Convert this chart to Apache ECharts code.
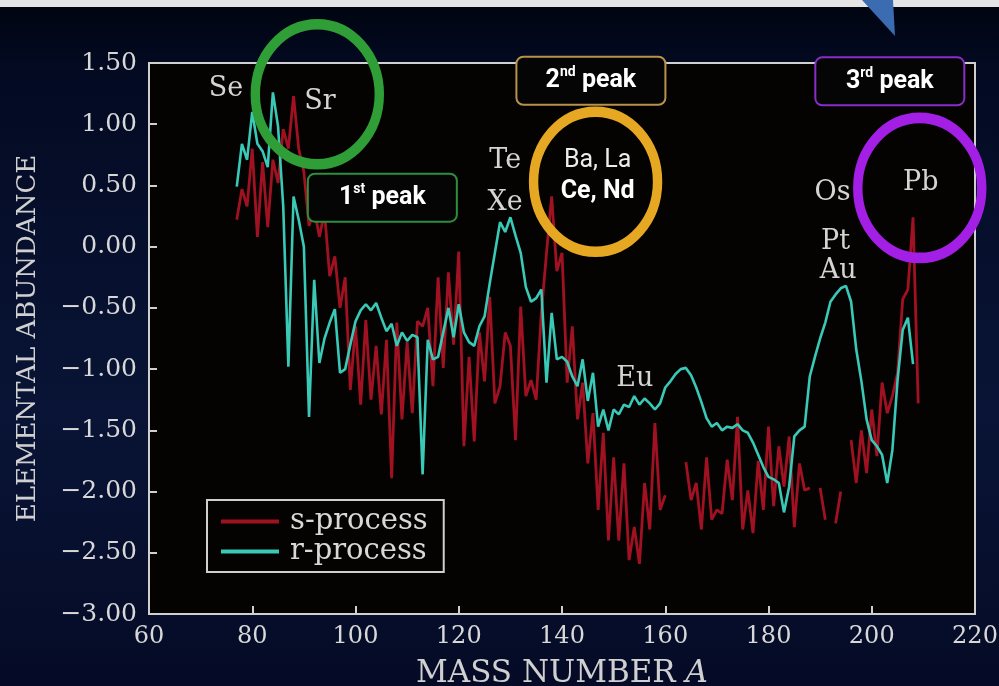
<!DOCTYPE html>
<html>
<head>
<meta charset="utf-8">
<title>s- and r-process abundances</title>
<script src="https://cdn.jsdelivr.net/npm/echarts@6/dist/echarts.min.js"></script>
<style>
  html, body { margin: 0; padding: 0; background: #070d2b; }
  #chart { width: 999px; height: 686px; }
</style>
</head>
<body>
<div id="chart"></div>
<script>
// Mass numbers A shared by both abundance curves
const massNumbers = [
  77, 78, 79, 80, 81, 82, 83, 84, 85, 86, 87, 88, 89, 90, 91, 92, 93, 94, 95, 96,
  97, 98, 99, 100, 101, 102, 103, 104, 105, 106, 107, 108, 109, 110, 111, 112, 113, 114, 115, 116,
  117, 118, 119, 120, 121, 122, 123, 124, 125, 126, 127, 128, 129, 130, 131, 132, 133, 134, 135, 136,
  137, 138, 139, 140, 141, 142, 143, 144, 145, 146, 147, 148, 149, 150, 151, 152, 153, 154, 155, 156,
  157, 158, 159, 160, 161, 162, 163, 164, 165, 166, 167, 168, 169, 170, 171, 172, 173, 174, 175, 176,
  177, 178, 179, 180, 181, 182, 183, 184, 185, 186, 187, 188, 189, 190, 191, 192, 193, 194, 195, 196,
  197, 198, 199, 200, 201, 202, 203, 204, 205, 206, 207, 208, 209
];

// s-process elemental abundance (log scale); null = no value
const sProcess = [
  0.22, 0.47, 0.33, 0.80, 0.08, 0.69, 0.16, 0.71, 0.52, 0.96, 0.80, 1.23, 0.80, 0.61, 0.17, 0.31, 0.08, 0.28, -0.24, -0.08,
  -0.50, -0.25, -1.17, -0.65, -1.29, -0.60, -1.25, -0.81, -1.37, -0.76, -1.89, -0.62, -1.41, -0.78, -1.36, -0.61, -0.65, -0.50, -1.14, -0.25,
  -0.99, -0.21, -0.80, -0.04, -1.63, -0.90, -1.59, -0.70, -1.10, -0.41, -1.28, -1.14, -0.70, -0.81, -1.58, -0.49, -1.22, -1.09, -1.25, -0.54,
  -0.05, 0.41, -0.20, -0.05, -1.11, -0.65, -1.41, -1.11, -1.77, -1.36, -2.15, -1.52, -2.40, -1.72, -2.40, -1.77, -2.56, -2.29, -2.59, -1.93,
  -2.31, -1.44, -2.15, -2.03, null, null, null, -1.76, -2.07, -1.93, -2.31, -1.72, -2.23, -2.15, -2.18, -1.74, -2.07, -1.39, -2.31, -1.99,
  -2.34, -1.75, -2.15, -1.47, -2.12, -1.63, -1.96, -1.55, -2.29, -1.77, -1.99, -1.97, null, -1.97, -2.23, null, -2.26, -2.00, null, -1.58,
  -1.93, -1.50, -1.85, -1.33, -1.71, -1.11, -1.36, -1.22, -1.03, -0.43, -0.35, 0.24, -1.28
];

// r-process elemental abundance (log scale); null = no value
const rProcess = [
  0.49, 0.84, 0.71, 1.10, 0.84, 0.78, 0.65, 1.26, 0.98, 0.33, -0.98, 0.41, 0.22, 0.00, -1.39, -0.27, -0.95, -0.75, -0.62, -0.51,
  -1.03, -1.00, -0.80, -0.61, -0.52, -0.47, -0.52, -0.46, -0.58, -0.69, -0.63, -0.81, -0.70, -0.77, -0.72, -0.74, -1.86, -0.76, -0.92, -0.90,
  -0.70, -0.50, -0.74, -0.47, -0.70, -0.78, -0.81, -0.65, -0.57, -0.30, -0.05, 0.20, 0.12, 0.24, 0.09, -0.05, -0.33, -0.45, -0.42, -0.35,
  -1.11, -0.54, -0.92, -0.90, -0.94, -1.06, -1.14, -0.92, -1.26, -1.03, -1.47, -1.33, -1.50, -1.33, -1.37, -1.29, -1.31, -1.22, -1.29, -1.24,
  -1.28, -1.33, -1.28, -1.15, -1.10, -1.04, -1.00, -0.99, -1.05, -1.15, -1.27, -1.40, -1.47, -1.44, -1.50, -1.47, -1.48, -1.45, -1.50, -1.52,
  -1.60, -1.70, -1.80, -1.88, -1.90, -1.93, -2.17, -1.96, -1.55, -1.50, -1.47, -1.06, -0.90, -0.75, -0.62, -0.45, -0.39, -0.34, -0.32, -0.45,
  -0.84, -1.10, -1.41, -1.58, -1.63, -1.70, -1.93, -1.66, -1.09, -0.68, -0.58, -0.96, null
];

const seriesNames = ['s-process', 'r-process'];

// Element symbols marked on the curves, anchored at [A, abundance]
const elementNames = ['Se', 'Sr', 'Te', 'Xe', 'Eu', 'Os', 'Pt', 'Au', 'Pb'];
const elementAnchors = [
  [74.9, 1.29], [93.1, 1.18], [129.0, 0.70], [129.0, 0.36], [154.1, -1.08],
  [192.4, 0.44], [193.0, 0.04], [193.5, -0.20], [209.5, 0.52]
];

// Rare-earth group inside the second-peak ring
const rareEarthLines = ['Ba, La', 'Ce, Nd'];
const rareEarthAnchors = [[146.9, 0.70], [146.9, 0.45]];

// Peak captions: ordinal number, suffix, anchor
const peakNumbers = ['1', '2', '3'];
const peakSuffixes = ['st', 'nd', 'rd'];
const peakAnchors = [[105.2, 0.40], [145.6, 1.355], [203.5, 1.35]];

// Rings around the three abundance peaks
const ringAnchors = [[92.6, 1.245], [146.5, 0.53], [209.3, 0.48]];

const ringColors = ['#2f9e36', '#e6a823', '#a41fe6'];
const peakBorderColors = ['#2e8f3d', '#b8924a', '#8a2cc8'];

const SERIF = 'DejaVu Serif';
const SANS = 'Roboto';

const chart = echarts.init(document.getElementById('chart'), null, { renderer: 'canvas' });

const minusFmt = v => (v < 0 ? '\u2212' : '') + Math.abs(v).toFixed(2);

const option = {
  animation: false,
  backgroundColor: {
    type: 'linear', x: 0, y: 0, x2: 0, y2: 1,
    colorStops: [
      { offset: 0, color: '#00040f' },
      { offset: 0.1, color: '#030a22' },
      { offset: 0.6, color: '#091436' },
      { offset: 1, color: '#050b26' }
    ]
  },
  graphic: [
    { type: 'rect', shape: { x: 0, y: 0, width: 999, height: 7 }, style: { fill: '#e4e4e4' }, silent: true },
    { type: 'polygon', shape: { points: [[862, 0], [893, 0], [895, 36]] }, style: { fill: '#3b6cb2' }, silent: true }
  ],
  grid: {
    left: 149, right: 24, top: 63, bottom: 72,
    outerBoundsMode: 'none',
    containLabel: false,
    show: true,
    backgroundColor: '#050202',
    borderColor: '#cfcfcf',
    borderWidth: 2
  },
  legend: {
    data: seriesNames,
    orient: 'vertical',
    left: 207, top: 500,
    padding: [7, 16, 6, 14],
    itemGap: 1,
    itemWidth: 58,
    itemHeight: 4,
    icon: 'rect',
    backgroundColor: '#050202',
    borderColor: '#cfcfcf',
    borderWidth: 2,
    borderRadius: 0,
    textStyle: { color: '#d8d8d8', fontFamily: SERIF, fontSize: 29, lineHeight: 26, padding: [0, 0, 0, 6] }
  },
  xAxis: {
    type: 'value',
    min: 60, max: 220, interval: 20,
    name: '{n|MASS NUMBER }{i|A}',
    nameLocation: 'middle',
    nameGap: 44,
    nameTextStyle: {
      rich: {
        n: { fontFamily: SERIF, fontSize: 31, color: '#d0d0d0' },
        i: { fontFamily: SERIF, fontSize: 31, fontStyle: 'italic', color: '#d0d0d0' }
      }
    },
    axisLine: { show: true, onZero: false, lineStyle: { color: '#cfcfcf', width: 2 } },
    axisTick: { show: true, inside: true, length: 8, lineStyle: { color: '#cfcfcf', width: 2 } },
    axisLabel: { color: '#d8d8d8', fontFamily: SERIF, fontSize: 24, margin: 11 },
    splitLine: { show: false }
  },
  yAxis: {
    type: 'value',
    min: -3, max: 1.5, interval: 0.5,
    name: 'ELEMENTAL ABUNDANCE',
    nameLocation: 'middle',
    nameGap: 108,
    nameTextStyle: { color: '#d0d0d0', fontFamily: SERIF, fontSize: 26 },
    axisLine: { show: true, onZero: false, lineStyle: { color: '#cfcfcf', width: 2 } },
    axisTick: { show: true, inside: true, length: 8, lineStyle: { color: '#cfcfcf', width: 2 } },
    axisLabel: { color: '#d8d8d8', fontFamily: SERIF, fontSize: 25, margin: 12, formatter: minusFmt },
    splitLine: { show: false }
  },
  series: [
    {
      name: seriesNames[0],
      type: 'line',
      data: massNumbers.map((a, i) => [a, sProcess[i]]),
      showSymbol: false, symbol: 'none',
      connectNulls: false,
      lineStyle: { color: '#a01222', width: 2.8 },
      itemStyle: { color: '#a01222' },
      silent: true, z: 2
    },
    {
      name: seriesNames[1],
      type: 'line',
      data: massNumbers.map((a, i) => [a, rProcess[i]]),
      showSymbol: false, symbol: 'none',
      connectNulls: false,
      lineStyle: { color: '#38c9b7', width: 2.6 },
      itemStyle: { color: '#38c9b7' },
      silent: true, z: 3
    },
    {
      name: 'elements',
      type: 'scatter',
      data: elementAnchors,
      symbolSize: 0,
      itemStyle: { opacity: 1 },
      clip: false, silent: true, z: 4,
      label: {
        show: true, position: 'inside',
        formatter: p => elementNames[p.dataIndex],
        color: '#d4d4d4', fontFamily: SERIF, fontSize: 27
      }
    },
    {
      name: 'rare earths',
      type: 'scatter',
      data: rareEarthAnchors,
      symbolSize: 0,
      itemStyle: { opacity: 1 },
      clip: false, silent: true, z: 4,
      label: {
        show: true, position: 'inside',
        formatter: p => '{' + (p.dataIndex === 0 ? 'r' : 'b') + '|' + rareEarthLines[p.dataIndex] + '}',
        rich: {
          r: { color: '#ececec', fontFamily: SANS, fontSize: 25, fontWeight: 'normal' },
          b: { color: '#ffffff', fontFamily: SANS, fontSize: 25, fontWeight: 'bold' }
        }
      }
    },
    {
      name: 'rings',
      type: 'scatter',
      data: ringAnchors.map((c, i) => ({
        value: c,
        itemStyle: { color: 'rgba(0,0,0,0)', borderColor: ringColors[i], borderWidth: 10, opacity: 1 }
      })),
      symbol: 'circle',
      symbolSize: [124, 140],
      clip: false, silent: true, z: 6
    },
    {
      name: 'peaks',
      type: 'scatter',
      data: peakAnchors.map((c, i) => ({
        value: c,
        label: { borderColor: peakBorderColors[i] }
      })),
      symbolSize: 0,
      itemStyle: { opacity: 1 },
      clip: false, silent: true, z: 7,
      label: {
        show: true, position: 'inside',
        formatter: p => '{n|' + peakNumbers[p.dataIndex] + '}{s|' + peakSuffixes[p.dataIndex] + '}{n| peak}',
        backgroundColor: '#050505',
        borderWidth: 2,
        borderRadius: 6,
        width: 119,
        padding: [8, 14, 8, 14],
        align: 'center',
        rich: {
          n: { color: '#ffffff', fontFamily: SANS, fontSize: 25, fontWeight: 'bold', lineHeight: 30, verticalAlign: 'middle' },
          s: { color: '#ffffff', fontFamily: SANS, fontSize: 14, fontWeight: 'bold', lineHeight: 30, verticalAlign: 'top' }
        }
      }
    }
  ]
};

chart.setOption(option);
</script>
</body>
</html>
